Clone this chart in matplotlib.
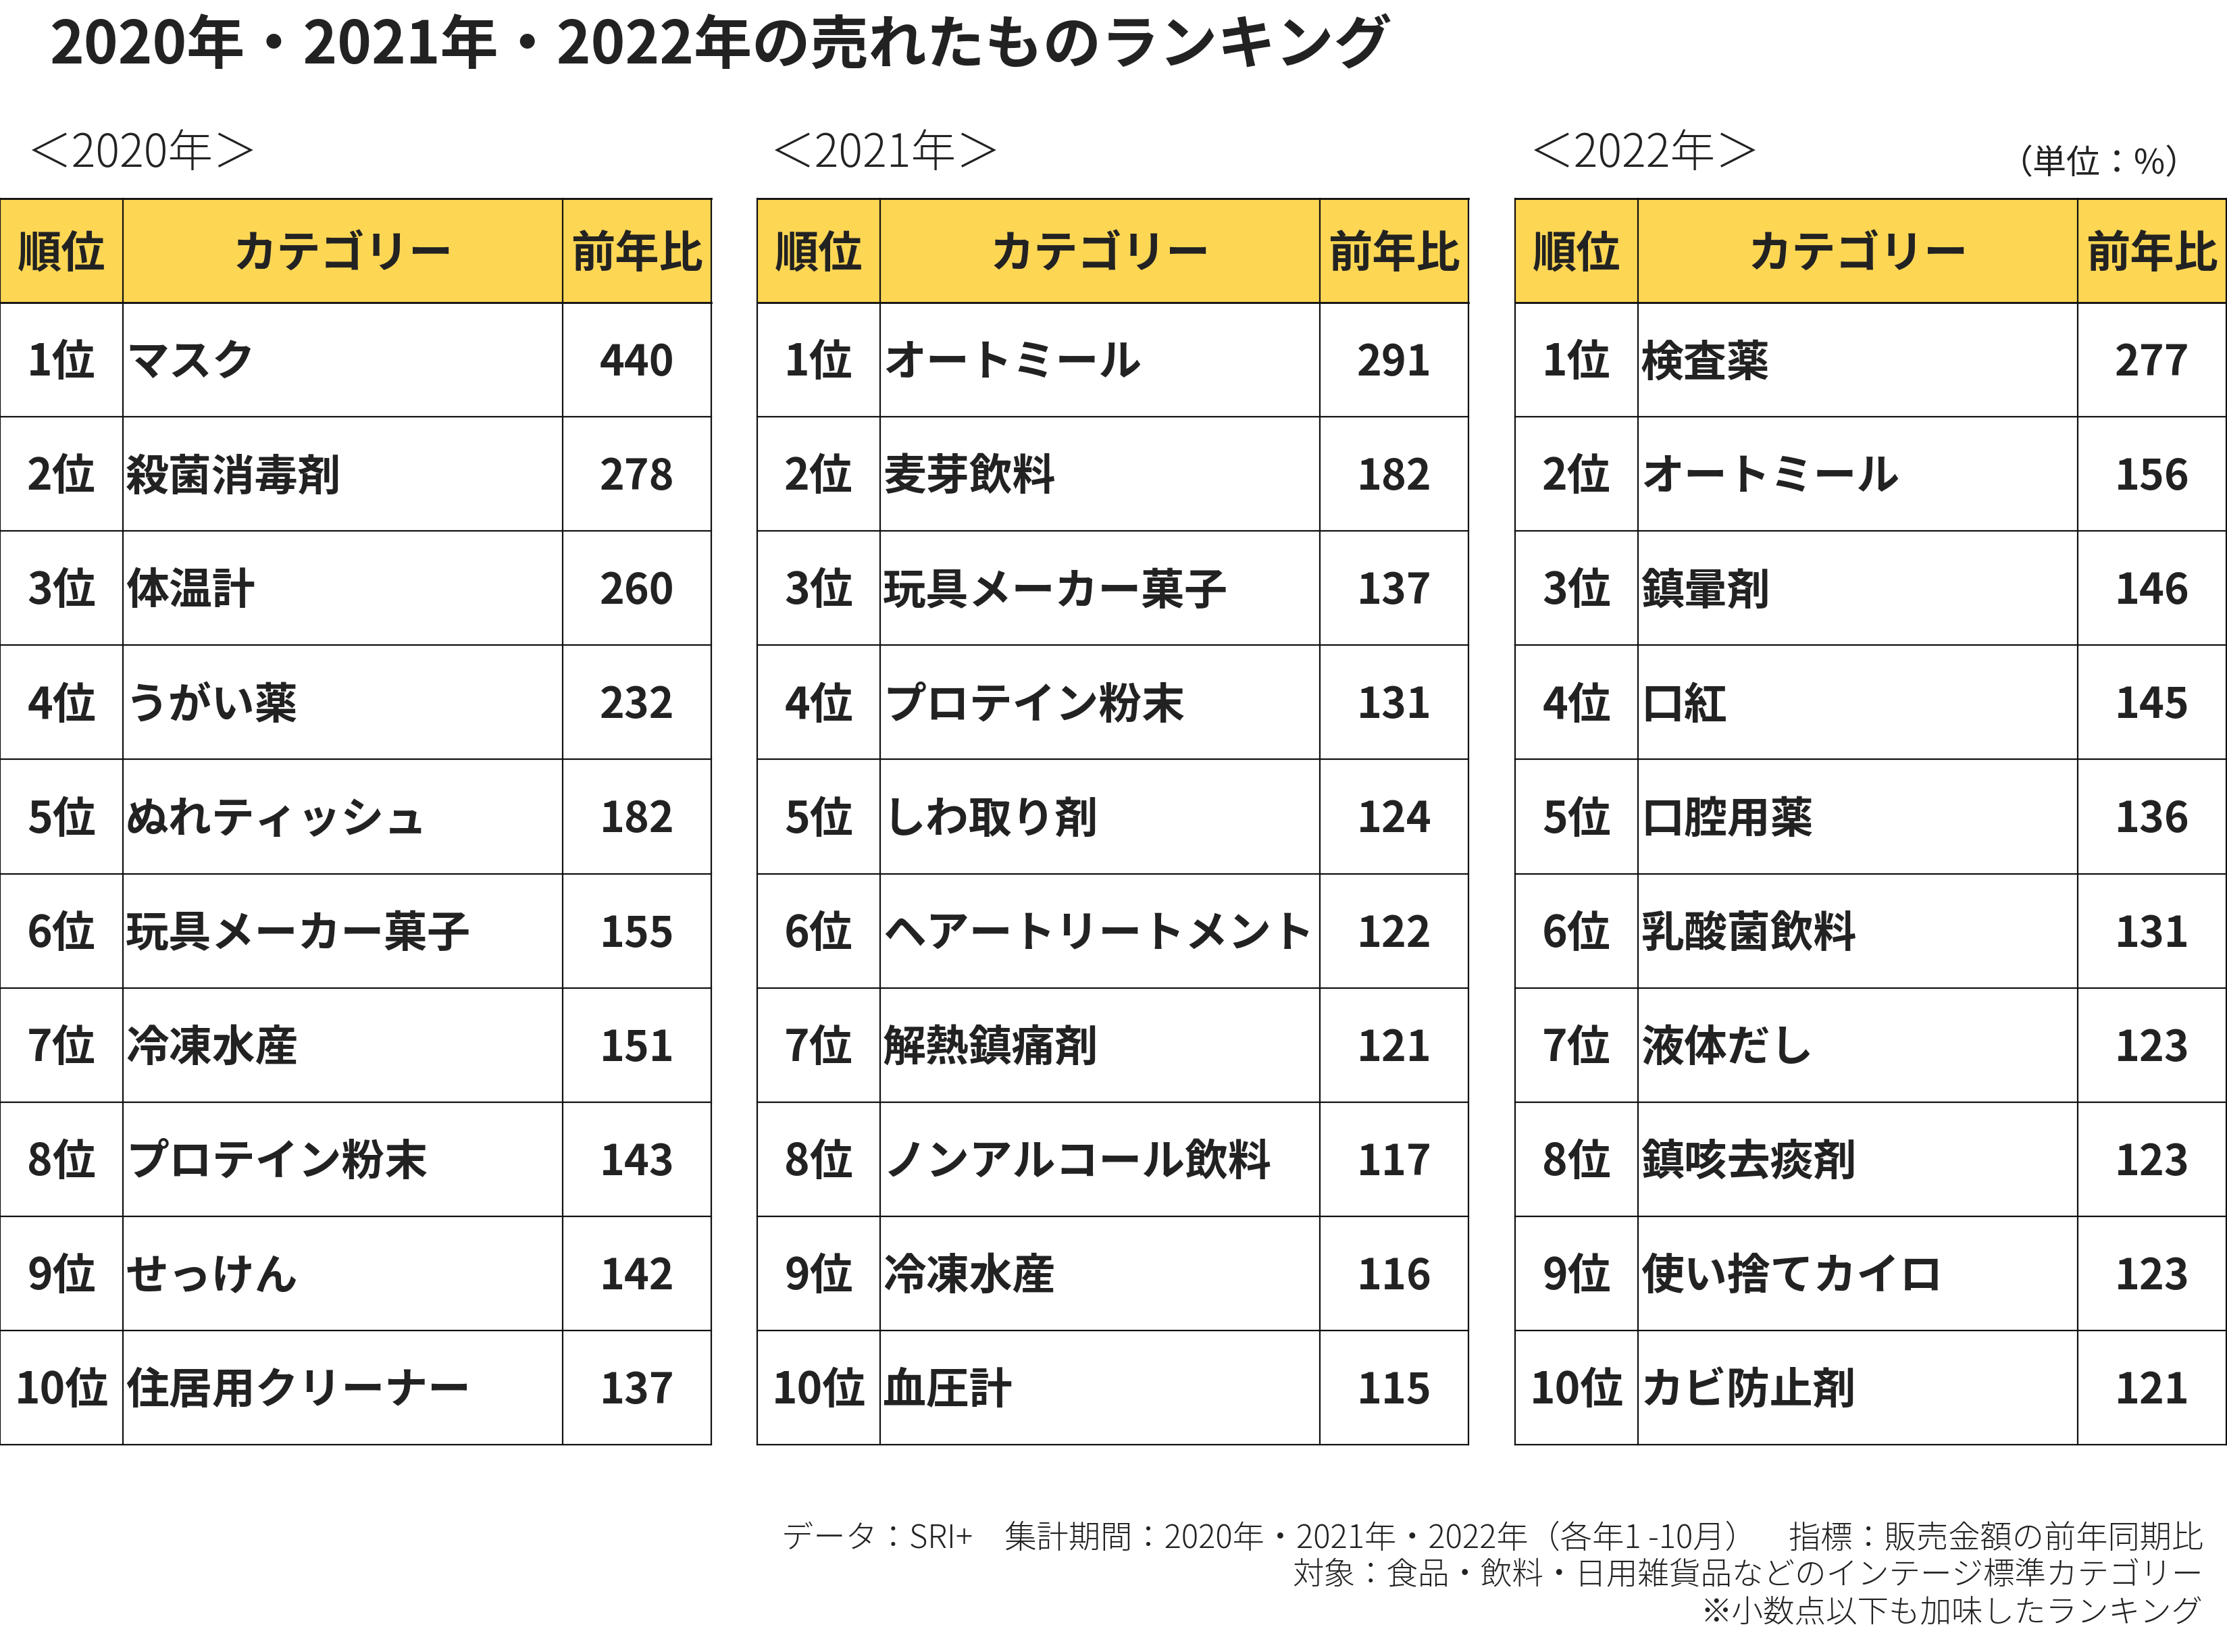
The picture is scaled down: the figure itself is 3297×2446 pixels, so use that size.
import matplotlib.pyplot as plt
from matplotlib.patches import Rectangle

plt.rcParams['font.family'] = ['Noto Sans CJK JP', 'DejaVu Sans']

# データ
title = "2020年・2021年・2022年の売れたものランキング"
years = ["2020年", "2021年", "2022年"]
headers = ["順位", "カテゴリー", "前年比"]
rank_labels = ["1位", "2位", "3位", "4位", "5位", "6位", "7位", "8位", "9位", "10位"]

cats_2020 = ["マスク", "殺菌消毒剤", "体温計", "うがい薬", "ぬれティッシュ",
             "玩具メーカー菓子", "冷凍水産", "プロテイン粉末", "せっけん", "住居用クリーナー"]
vals_2020 = [440, 278, 260, 232, 182, 155, 151, 143, 142, 137]

cats_2021 = ["オートミール", "麦芽飲料", "玩具メーカー菓子", "プロテイン粉末", "しわ取り剤",
             "ヘアートリートメント", "解熱鎮痛剤", "ノンアルコール飲料", "冷凍水産", "血圧計"]
vals_2021 = [291, 182, 137, 131, 124, 122, 121, 117, 116, 115]

cats_2022 = ["検査薬", "オートミール", "鎮暈剤", "口紅", "口腔用薬",
             "乳酸菌飲料", "液体だし", "鎮咳去痰剤", "使い捨てカイロ", "カビ防止剤"]
vals_2022 = [277, 156, 146, 145, 136, 131, 123, 123, 123, 121]

unit_label = "（単位：%）"
footer_lines = [
    "データ：SRI+　集計期間：2020年・2021年・2022年（各年1 -10月）　指標：販売金額の前年同期比",
    "対象：食品・飲料・日用雑貨品などのインテージ標準カテゴリー",
    "※小数点以下も加味したランキング",
]

# レイアウト (ピクセル)
W, H = 3298, 2446
TXT = '#222222'
YELLOW = '#FDD654'
table_left = [0, 1121, 2243]
year_x = [40, 1140, 2264]
col_w = [182, 651, 220]
head_top, head_h, row_h = 294, 154, 169.1
dy = 5  # 文字の縦位置の微調整
lw = 1.6

fig = plt.figure(figsize=(W / 100, H / 100), dpi=100)
ax = fig.add_axes([0, 0, 1, 1])
ax.set_xlim(0, W)
ax.set_ylim(H, 0)
ax.axis('off')

ax.text(74, 68, title, fontsize=62, fontweight='bold', color=TXT, ha='left', va='center')

tables = [(cats_2020, vals_2020), (cats_2021, vals_2021), (cats_2022, vals_2022)]
for t, (cats, vals) in enumerate(tables):
    x0 = table_left[t]
    xs = [x0, x0 + col_w[0], x0 + col_w[0] + col_w[1], x0 + sum(col_w)]
    n = len(cats)
    bottom = head_top + head_h + n * row_h

    ax.text(year_x[t], 228, "＜" + years[t] + "＞", fontsize=48, fontweight='light',
            color=TXT, ha='left', va='center')

    # ヘッダー
    ax.add_patch(Rectangle((x0, head_top), sum(col_w), head_h, facecolor=YELLOW, edgecolor='none'))
    hy = head_top + head_h / 2 + dy
    for c, h in enumerate(headers):
        ax.text((xs[c] + xs[c + 1]) / 2, hy, h, fontsize=47, fontweight='bold',
                color=TXT, ha='center', va='center')

    # 罫線
    for x in xs:
        ax.plot([x, x], [head_top, bottom], color='#111111', lw=lw, solid_capstyle='projecting')
    ax.plot([xs[0], xs[-1]], [head_top, head_top], color='#111111', lw=lw * 1.3)
    ax.plot([xs[0], xs[-1]], [head_top + head_h, head_top + head_h], color='#111111', lw=lw * 1.3)
    for i in range(n):
        yb = head_top + head_h + (i + 1) * row_h
        ax.plot([xs[0], xs[-1]], [yb, yb], color='#111111', lw=lw)

    # 本文
    for i in range(n):
        yc = head_top + head_h + (i + 0.5) * row_h + dy
        ax.text((xs[0] + xs[1]) / 2, yc, rank_labels[i], fontsize=46, fontweight='bold',
                color=TXT, ha='center', va='center')
        ax.text(xs[1] + 4, yc, cats[i], fontsize=46, fontweight='bold',
                color=TXT, ha='left', va='center')
        ax.text((xs[2] + xs[3]) / 2, yc, str(vals[i]), fontsize=45, fontweight='bold',
                color=TXT, ha='center', va='center')

ax.text(3255, 243, unit_label, fontsize=36, color=TXT, ha='right', va='center')

for k, line in enumerate(footer_lines):
    ax.text(3262, 2278 + k * 55, line, fontsize=34 if k == 0 else 33.5, fontweight='light',
            color=TXT, ha='right', va='center')

fig.savefig('out.png', dpi=100, facecolor='white')
